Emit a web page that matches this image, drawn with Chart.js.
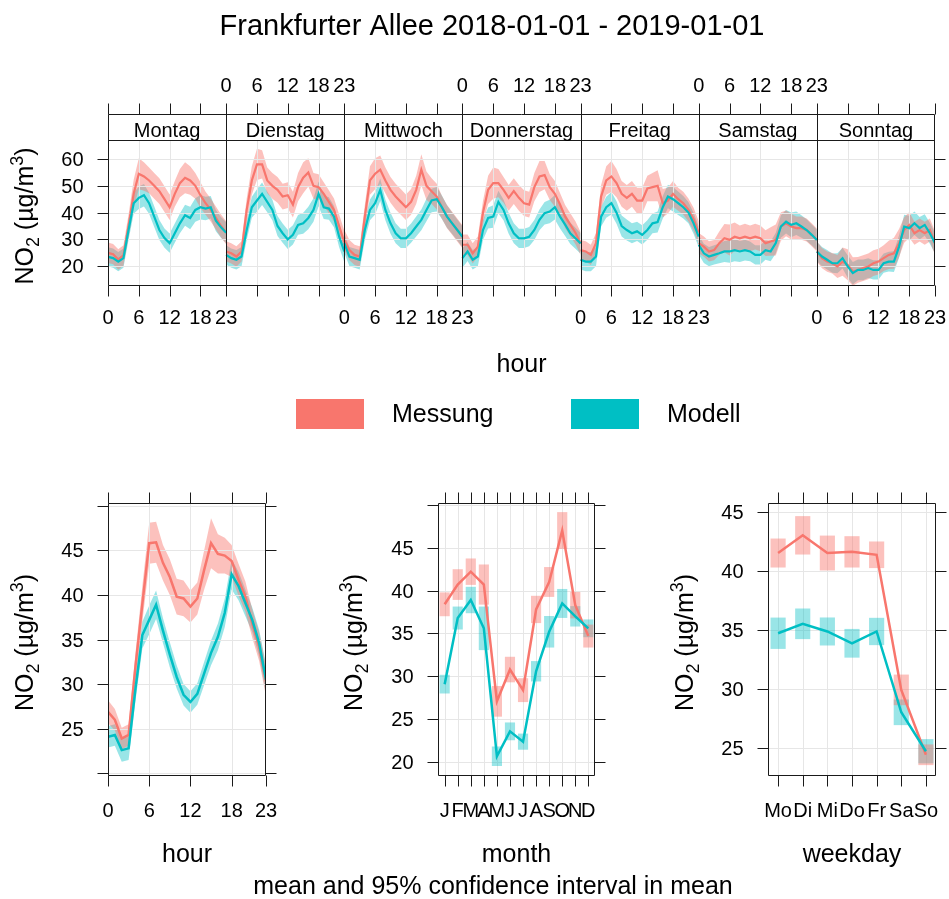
<!DOCTYPE html>
<html>
<head>
<meta charset="utf-8">
<title>Frankfurter Allee NO2</title>
<script src="https://cdn.jsdelivr.net/npm/chart.js@4.4.0/dist/chart.umd.min.js"></script>
<style>
  body { margin: 0; background: #fff; }
  canvas { position: absolute; left: 0; top: 0; }
</style>
</head>
<body>
<canvas id="weekChart" width="949" height="899"></canvas>
<canvas id="hourChart" width="949" height="899"></canvas>
<canvas id="monthChart" width="949" height="899"></canvas>
<canvas id="weekdayChart" width="949" height="899"></canvas>
<script>
// categories
const dayNames = ['Montag', 'Dienstag', 'Mittwoch', 'Donnerstag', 'Freitag', 'Samstag', 'Sonntag'];
const hourTicks = [0, 6, 12, 18, 23];
const monthLabels = ['J', 'F', 'M', 'A', 'M', 'J', 'J', 'A', 'S', 'O', 'N', 'D'];
const weekdayLabels = ['Mo', 'Di', 'Mi', 'Do', 'Fr', 'Sa', 'So'];
const seriesNames = ['Messung', 'Modell'];

// hour x weekday means (hour 0..23)
const messMontag = [25, 24.5, 22.5, 24, 35, 47, 54.5, 53.5, 52, 50, 48, 45, 42, 47, 51, 53, 52, 50, 46.5, 43.5, 41, 38, 35, 32.5];
const modMontag = [23.5, 23, 21.7, 23, 33.5, 43.5, 45.5, 46.5, 43.5, 38.5, 33.5, 30.5, 28.6, 32.3, 36, 39, 38, 41, 42, 41.5, 42, 37, 34.5, 32.5];
const messDienstag = [25.5, 24.8, 23.6, 25.5, 41, 52, 58, 58, 52, 50, 48.5, 46, 46.5, 43, 49.5, 53, 55, 50, 49.5, 47, 44, 41, 35, 29];
const modDienstag = [24.2, 23, 22.4, 23.6, 33.5, 42, 44.5, 47, 44, 41, 35, 32.3, 30, 31.7, 35.4, 36, 38, 41, 47, 42, 41.5, 38.5, 31, 25.5];
const messMittwoch = [29.8, 26, 24.2, 23.6, 38.5, 52, 54.5, 56, 52, 48.5, 46, 44, 42, 44, 48.5, 56, 50, 48, 46, 42, 38.5, 36, 33.5, 31];
const modMittwoch = [28.6, 23.6, 23, 22.4, 33.5, 41, 43.5, 48.5, 41, 36, 32.3, 30.4, 30.4, 32.3, 34.8, 37.3, 41, 44.5, 45, 42, 38.5, 36, 33.5, 31];
const messDonnerstag = [28, 28, 24.8, 27.3, 40, 48.5, 51, 51, 48.5, 45.5, 48, 45.5, 43.5, 43, 49.5, 53.5, 54, 49.5, 47, 43, 38.5, 35.5, 32.5, 28.5];
const modDonnerstag = [23, 25.5, 22.4, 23.6, 33.5, 38, 38.5, 44, 41, 36, 32.3, 30.4, 30.4, 31, 33.5, 37.3, 39.8, 40.4, 42, 38.5, 35.5, 32.3, 30.4, 28.5];
const messFreitag = [26, 25.5, 24.2, 28.6, 46, 52, 53.5, 51, 47, 45.5, 47, 44.5, 44.5, 49, 49.5, 50, 43.5, 44.5, 47, 45, 43.5, 41, 37.5, 32.5];
const modFreitag = [22.4, 21.7, 21.7, 23.6, 38.5, 42, 43.5, 40, 35, 33.5, 32.3, 33, 31.7, 33.5, 36, 36.5, 42, 46, 45, 43.5, 42, 40, 36, 31];
const messSamstag = [28.6, 27.3, 25.5, 26, 28.6, 30.4, 29.8, 31, 30.4, 31, 30.4, 31, 30.4, 28.6, 29.2, 29.8, 34.8, 36, 34.8, 34.2, 34.2, 33.5, 31.7, 29.8];
const modSamstag = [28, 24.8, 23.6, 24.2, 24.8, 25.5, 25.5, 26, 25.5, 26, 25.5, 24.2, 24.2, 26, 25.5, 28.6, 34.8, 36.6, 35.4, 36, 34.8, 33.5, 31.7, 29.8];
const messSonntag = [25.5, 23, 21.7, 21.1, 19.9, 21.7, 20.5, 18, 18.6, 19.3, 19.9, 21.1, 21.7, 23, 24.2, 24.8, 28.6, 33.5, 35.4, 32.3, 33.5, 32.3, 33.5, 28.6];
const modSonntag = [25.5, 23.6, 22.4, 21.1, 21.1, 23, 19.9, 17.4, 18.6, 18.6, 19.3, 18.6, 18.6, 21.1, 21.7, 21.7, 27.3, 34.8, 34.2, 36, 34.2, 35.4, 32.3, 28.6];
// 95% CI half widths for the weekday panels, by hour
const messWeekHw = [3.8, 3.8, 3.8, 3.8, 4.3, 5.3, 5.8, 5.3, 4.8, 4.8, 4.8, 4.8, 4.8, 4.8, 5.3, 5.8, 5.3, 4.8, 4.8, 4.3, 4.3, 4.3, 4.3, 4.3];
const modWeekHw = [3.6, 3.6, 3.6, 3.6, 3.7, 3.9, 4.2, 4.2, 3.9, 3.9, 3.7, 3.6, 3.6, 3.6, 3.7, 3.9, 4.2, 4.4, 4.6, 4.4, 4.2, 4, 3.9, 3.9];

// diurnal
const messHour = [26.9, 26, 23.9, 24.3, 32, 39, 45.8, 45.9, 43.6, 42, 39.8, 39.6, 38.7, 39.6, 42.8, 45.8, 44.6, 44.4, 43.8, 41.7, 39.8, 36.8, 34.2, 30.3];
const messHourHw = [1.3, 1.2, 1.2, 1.2, 1.5, 2, 2.3, 2.3, 2, 2, 2, 2, 1.8, 1.8, 2.2, 2.8, 2.2, 2, 1.8, 1.8, 1.7, 1.6, 1.6, 1.7];
const modHour = [24.1, 24.3, 22.6, 22.8, 29.5, 35.5, 37.2, 38.9, 36, 33.3, 30.8, 28.8, 28, 28.9, 31.2, 33.5, 35.3, 38, 42.3, 41, 39.1, 37.2, 34.6, 30.5];
const modHourHw = [1.2, 1.2, 1.3, 1.3, 1.4, 1.5, 1.6, 1.6, 1.4, 1.4, 1.3, 1.2, 1.2, 1.2, 1.3, 1.4, 1.5, 1.6, 1.7, 1.6, 1.5, 1.4, 1.5, 1.7];

// monthly
const messMonth = [38.4, 40.7, 42.2, 40.7, 27.1, 30.8, 28.4, 37.8, 41, 47, 38.3, 34.7];
const messMonthHw = [1.35, 1.75, 1.5, 2.3, 1.75, 1.45, 1.35, 1.55, 1.7, 2.1, 1.5, 1.3];
const modMonth = [29.1, 36.8, 38.9, 35.6, 20.7, 23.6, 22.4, 30.6, 35.2, 38.5, 37, 35.6];
const modMonthHw = [1.05, 1.3, 1.5, 2.5, 1.1, 1, 0.9, 1.15, 1.8, 1.65, 1.15, 1];

// weekday
const messWeekday = [41.5, 43, 41.5, 41.6, 41.35, 29.9, 24.4];
const messWeekdayHw = [1.2, 1.6, 1.45, 1.3, 1.1, 1.27, 0.85];
const modWeekday = [34.7, 35.5, 34.85, 33.85, 34.85, 28, 24.7];
const modWeekdayHw = [1.3, 1.27, 1.16, 1.19, 1.13, 1.06, 1];

// y axis ticks
const weekYTicks = [20, 30, 40, 50, 60];
const hourYTicks = [20, 25, 30, 35, 40, 45, 50];
const hourYLabels = [25, 30, 35, 40, 45];
const monthYTicks = [20, 25, 30, 35, 40, 45, 50];
const monthYLabels = [20, 25, 30, 35, 40, 45];
const weekdayYTicks = [25, 30, 35, 40, 45];

const messDays = [messMontag, messDienstag, messMittwoch, messDonnerstag, messFreitag, messSamstag, messSonntag];
const modDays = [modMontag, modDienstag, modMittwoch, modDonnerstag, modFreitag, modSamstag, modSonntag];

const FONT = '"Liberation Sans", Arial, sans-serif';
const RED = '#F8766D';
const TEAL = '#00BFC4';
const RED_BAND = 'rgba(248,118,109,0.45)';
const TEAL_BAND = 'rgba(0,191,196,0.4)';
const NONE = 'rgba(0,0,0,0)';

const snap = v => Math.round(v) + 0.5;

function drawUnitLabel(ctx, cx, cy) {
    const big = '25px ' + FONT, small = '18px ' + FONT;
    const parts = [['NO', big, 0], ['2', small, 6], [' (\u00b5g/m', big, 0], ['3', small, -10], [')', big, 0]];
    ctx.save();
    ctx.translate(cx, cy);
    ctx.rotate(-Math.PI / 2);
    let w = 0;
    parts.forEach(p => { ctx.font = p[1]; w += ctx.measureText(p[0]).width; });
    let xx = -w / 2;
    ctx.textAlign = 'left';
    ctx.textBaseline = 'alphabetic';
    ctx.fillStyle = '#000';
    parts.forEach(p => {
        ctx.font = p[1];
        ctx.fillText(p[0], xx, 9 + p[2]);
        xx += ctx.measureText(p[0]).width;
    });
    ctx.restore();
}

// lattice style panel: grid, box, ticks, labels
const latticeAxes = {
    id: 'latticeAxes',
    beforeDatasetsDraw(chart, args, o) {
        const { ctx, chartArea: a } = chart;
        const x = chart.scales.x, y = chart.scales.y;
        ctx.save();
        ctx.strokeStyle = '#e6e6e6';
        ctx.lineWidth = 1;
        ctx.beginPath();
        o.xGrid.forEach(v => { const p = snap(x.getPixelForValue(v)); ctx.moveTo(p, a.top); ctx.lineTo(p, a.bottom); });
        o.yGrid.forEach(v => { const p = snap(y.getPixelForValue(v)); ctx.moveTo(a.left, p); ctx.lineTo(a.right, p); });
        ctx.stroke();
        ctx.restore();
    },
    afterDraw(chart, args, o) {
        const { ctx, chartArea: a } = chart;
        const x = chart.scales.x, y = chart.scales.y;
        const L = snap(a.left), R = snap(a.right) - 1, B = snap(a.bottom) - 1;
        const T = snap(o.boxTop !== undefined ? o.boxTop : a.top);
        const tl = 11;
        ctx.save();
        ctx.strokeStyle = '#1a1a1a';
        ctx.lineWidth = 1;
        ctx.beginPath();
        ctx.rect(L, T, R - L, B - T);
        if (o.stripBottom) {
            const s = snap(o.stripBottom);
            ctx.moveTo(L, s); ctx.lineTo(R, s);
        }
        (o.seps || []).forEach(v => { const p = snap(x.getPixelForValue(v)); ctx.moveTo(p, T); ctx.lineTo(p, B); });
        o.xTicks.forEach(v => {
            const p = snap(x.getPixelForValue(v));
            ctx.moveTo(p, T); ctx.lineTo(p, T - tl);
            ctx.moveTo(p, B); ctx.lineTo(p, B + tl);
        });
        o.yTicks.forEach(v => {
            const p = snap(y.getPixelForValue(v));
            ctx.moveTo(L, p); ctx.lineTo(L - tl, p);
            ctx.moveTo(R, p); ctx.lineTo(R + tl, p);
        });
        ctx.stroke();

        ctx.fillStyle = '#000';
        ctx.font = '20px ' + FONT;
        ctx.textBaseline = 'alphabetic';
        ctx.textAlign = 'center';
        o.xLabels.forEach(l => ctx.fillText(l.t, x.getPixelForValue(l.v), l.top ? o.topBase : o.bottomBase));
        (o.strips || []).forEach(s => {
            ctx.fillText(s.t, (x.getPixelForValue(s.from) + x.getPixelForValue(s.to)) / 2, o.stripBase);
        });
        ctx.textAlign = 'right';
        o.yLabels.forEach(v => ctx.fillText(String(v), L - 25, y.getPixelForValue(v) + 7));
        ctx.restore();

        drawUnitLabel(ctx, o.unitX, (a.top + a.bottom) / 2 + 3);
        if (o.xTitle) {
            ctx.save();
            ctx.fillStyle = '#000';
            ctx.font = '25px ' + FONT;
            ctx.textAlign = 'center';
            ctx.fillText(o.xTitle, (a.left + a.right) / 2, o.xTitleBase);
            ctx.restore();
        }
    }
};

// title, legend, footer
const pageText = {
    id: 'pageText',
    afterDraw(chart) {
        const ctx = chart.ctx;
        ctx.save();
        ctx.fillStyle = '#000';
        ctx.textBaseline = 'alphabetic';
        ctx.textAlign = 'center';
        ctx.font = '29px ' + FONT;
        ctx.fillText('Frankfurter Allee 2018-01-01 - 2019-01-01', 492, 35);
        ctx.font = '25px ' + FONT;
        ctx.fillText('mean and 95% confidence interval in mean', 493, 894);
        ctx.fillStyle = RED;
        ctx.fillRect(296, 399, 68, 30);
        ctx.fillStyle = TEAL;
        ctx.fillRect(571, 399, 68, 30);
        ctx.fillStyle = '#000';
        ctx.textAlign = 'left';
        ctx.fillText(seriesNames[0], 392, 422);
        ctx.fillText(seriesNames[1], 667, 422);
        ctx.restore();
    }
};

function band(points, hw, color) {
    return [
        { type: 'line', data: points.map((p, i) => ({ x: p.x, y: p.y + hw[i] })), fill: '+1', backgroundColor: color,
          borderColor: NONE, borderWidth: 0, pointRadius: 0, order: 2 },
        { type: 'line', data: points.map((p, i) => ({ x: p.x, y: p.y - hw[i] })), fill: false,
          borderColor: NONE, borderWidth: 0, pointRadius: 0, order: 2 }
    ];
}

function meanLine(points, color, order, width) {
    return { type: 'line', data: points, borderColor: color, borderWidth: width || 2.5, pointRadius: 0, fill: false, order: order };
}

function boxes(vals, hw, color, thick) {
    return { type: 'bar', data: vals.map((v, i) => ({ x: i + 1, y: [v - hw[i], v + hw[i]] })), backgroundColor: color,
             borderWidth: 0, barThickness: thick, grouped: false, order: 2 };
}

function baseOptions(padding, xmin, xmax, ymin, ymax, axes) {
    return {
        responsive: false,
        animation: false,
        events: [],
        layout: { padding: padding },
        scales: {
            x: { type: 'linear', min: xmin, max: xmax, offset: false, display: false },
            y: { type: 'linear', min: ymin, max: ymax, display: false }
        },
        plugins: {
            legend: { display: false },
            tooltip: { enabled: false },
            filler: { drawTime: 'beforeDatasetsDraw' },
            latticeAxes: axes
        }
    };
}

// ---- weekday x hour panel ----
const weekSets = [];
const weekLines = [];
const weekTicks = [];
const weekGrid = [];
const weekLabels = [];
const weekStrips = [];
dayNames.forEach((d, f) => {
    const off = f * 23;
    const mp = messDays[f].map((v, h) => ({ x: off + h, y: v }));
    const op = modDays[f].map((v, h) => ({ x: off + h, y: v }));
    weekSets.push(...band(mp, messWeekHw, RED_BAND), ...band(op, modWeekHw, TEAL_BAND));
    weekLines.push(meanLine(mp, RED, 1, 2.2), meanLine(op, TEAL, 0, 2.2));
    [0, 6, 12, 18].forEach(h => weekTicks.push(off + h));
    [6, 12, 18].forEach(h => weekGrid.push(off + h));
    hourTicks.forEach(h => weekLabels.push({ v: off + h, t: String(h), top: f % 2 === 1 }));
    weekStrips.push({ t: d, from: off, to: off + 23 });
});
weekTicks.push(161);

new Chart(document.getElementById('weekChart'), {
    type: 'line',
    data: { datasets: weekSets.concat(weekLines) },
    options: baseOptions({ left: 108, right: 14, top: 140, bottom: 613 }, 0, 161, 12.6, 67.1, {
        xTicks: weekTicks, xGrid: weekGrid, yTicks: weekYTicks, yGrid: weekYTicks, yLabels: weekYTicks,
        xLabels: weekLabels, topBase: 91.5, bottomBase: 323.5,
        boxTop: 114, stripBottom: 140, seps: [23, 46, 69, 92, 115, 138],
        strips: weekStrips, stripBase: 136.5,
        unitX: 24, xTitle: 'hour', xTitleBase: 372
    }),
    plugins: [latticeAxes, pageText]
});

// ---- diurnal panel ----
const mh = messHour.map((v, h) => ({ x: h, y: v }));
const oh = modHour.map((v, h) => ({ x: h, y: v }));
new Chart(document.getElementById('hourChart'), {
    type: 'line',
    data: { datasets: [...band(mh, messHourHw, RED_BAND), ...band(oh, modHourHw, TEAL_BAND), meanLine(mh, RED, 1), meanLine(oh, TEAL, 0)] },
    options: baseOptions({ left: 108, right: 683, top: 503, bottom: 123 }, 0, 23, 19.7, 50.3, {
        xTicks: hourTicks, xGrid: [6, 12, 18], yTicks: hourYTicks, yGrid: hourYTicks, yLabels: hourYLabels,
        xLabels: hourTicks.map(h => ({ v: h, t: String(h) })), bottomBase: 817,
        unitX: 24, xTitle: 'hour', xTitleBase: 862
    }),
    plugins: [latticeAxes]
});

// ---- month panel ----
const monthIdx = monthLabels.map((m, i) => i + 1);
new Chart(document.getElementById('monthChart'), {
    type: 'line',
    data: { datasets: [
        boxes(messMonth, messMonthHw, RED_BAND, 9.5),
        boxes(modMonth, modMonthHw, TEAL_BAND, 9.5),
        meanLine(messMonth.map((v, i) => ({ x: i + 1, y: v })), RED, 1),
        meanLine(modMonth.map((v, i) => ({ x: i + 1, y: v })), TEAL, 0)
    ] },
    options: baseOptions({ left: 438, right: 354, top: 503, bottom: 123 }, 0.49, 12.51, 18.4, 50.2, {
        xTicks: monthIdx, xGrid: monthIdx, yTicks: monthYTicks, yGrid: monthYTicks, yLabels: monthYLabels,
        xLabels: monthLabels.map((m, i) => ({ v: i + 1, t: m })), bottomBase: 817,
        unitX: 353, xTitle: 'month', xTitleBase: 862
    }),
    plugins: [latticeAxes]
});

// ---- weekday panel ----
const wdIdx = weekdayLabels.map((d, i) => i + 1);
new Chart(document.getElementById('weekdayChart'), {
    type: 'line',
    data: { datasets: [
        boxes(messWeekday, messWeekdayHw, RED_BAND, 14.5),
        boxes(modWeekday, modWeekdayHw, TEAL_BAND, 14.5),
        meanLine(messWeekday.map((v, i) => ({ x: i + 1, y: v })), RED, 1),
        meanLine(modWeekday.map((v, i) => ({ x: i + 1, y: v })), TEAL, 0)
    ] },
    options: baseOptions({ left: 768, right: 13, top: 503, bottom: 123 }, 0.59, 7.41, 22.6, 45.74, {
        xTicks: wdIdx, xGrid: wdIdx, yTicks: weekdayYTicks, yGrid: weekdayYTicks, yLabels: weekdayYTicks,
        xLabels: weekdayLabels.map((d, i) => ({ v: i + 1, t: d })), bottomBase: 817,
        unitX: 684, xTitle: 'weekday', xTitleBase: 862
    }),
    plugins: [latticeAxes]
});
</script>
</body>
</html>
